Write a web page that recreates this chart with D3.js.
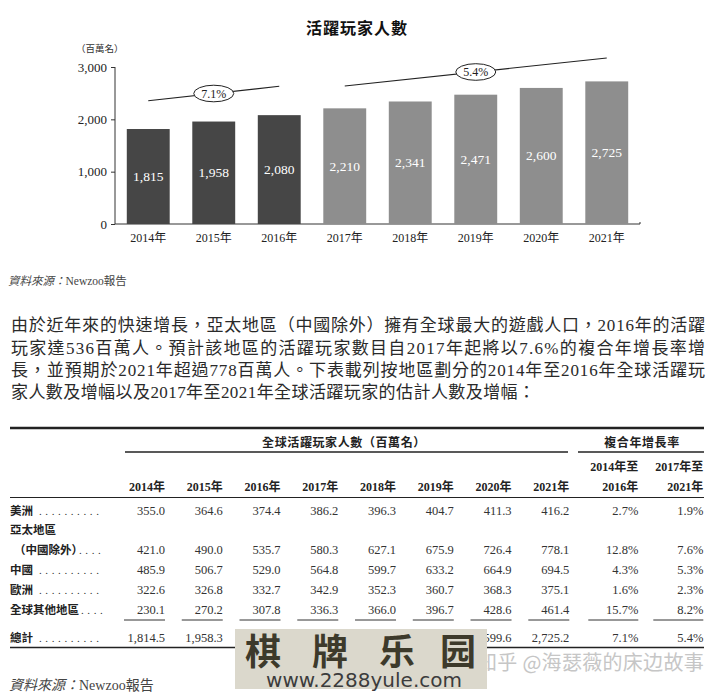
<!DOCTYPE html>
<html><head><meta charset="utf-8">
<script src="https://cdn.jsdelivr.net/npm/d3@7"></script>
<style>body{margin:0;background:#fff}svg{display:block}</style>
</head><body>
<svg id="c" width="720" height="694"></svg>
<script>
// ---------- chart data ----------
const years = ["2014年","2015年","2016年","2017年","2018年","2019年","2020年","2021年"];
const players = [1815,1958,2080,2210,2341,2471,2600,2725];
const actualYears = ["2014年","2015年","2016年"];
const yTicks = [0,1000,2000,3000];
const cagrText = ["7.1%","5.4%"];
const cagrFrom = ["2014年","2017年"];
const cagrTo = ["2016年","2021年"];
const cagrStartVal = [2356,2637];
const cagrEndVal = [2631,3172];

// ---------- table data ----------
const rowLabels = ["美洲","亞太地區","（中國除外）","中國","歐洲","全球其他地區","總計"];
const americas = [355.0,364.6,374.4,386.2,396.3,404.7,411.3,416.2];
const apac     = [421.0,490.0,535.7,580.3,627.1,675.9,726.4,778.1];
const china    = [485.9,506.7,529.0,564.8,599.7,633.2,664.9,694.5];
const europe   = [322.6,326.8,332.7,342.9,352.3,360.7,368.3,375.1];
const restOfWorld = [230.1,270.2,307.8,336.3,366.0,396.7,428.6,461.4];
const totals   = [1814.5,1958.3,2079.6,2210.5,2341.4,2471.2,2599.6,2725.2];
const cagr1416 = ["2.7%","12.8%","4.3%","1.6%","15.7%","7.1%"];
const cagr1721 = ["1.9%","7.6%","5.3%","2.3%","8.2%","5.4%"];

const paragraph = [
  "由於近年來的快速增長，亞太地區（中國除外）擁有全球最大的遊戲人口，2016年的活躍",
  "玩家達536百萬人。預計該地區的活躍玩家數目自2017年起將以7.6%的複合年增長率增",
  "長，並預期於2021年超過778百萬人。下表載列按地區劃分的2014年至2016年全球活躍玩",
  "家人數及增幅以及2017年至2021年全球活躍玩家的估計人數及增幅："
];

const SERIF = '"Liberation Serif","Noto Sans CJK TC",serif';
const svg = d3.select("#c");

// ================= BAR CHART =================
const x = d3.scaleBand().domain(years).range([115, 640]).paddingInner(0.345).paddingOuter(0.18);
const y = d3.scaleLinear().domain([0, 3000]).range([224, 67]);

svg.append("text").attr("x", 357).attr("y", 34).attr("text-anchor", "middle")
  .attr("font-family", SERIF).attr("font-weight", "bold").attr("font-size", 16)
  .attr("letter-spacing", 1).attr("fill", "#111").text("活躍玩家人數");
svg.append("text").attr("x", 76).attr("y", 52)
  .attr("font-family", SERIF).attr("font-size", 9.5).attr("fill", "#333").text("（百萬名）");

// y axis
const gy = svg.append("g").attr("transform", "translate(115,0)")
  .call(d3.axisLeft(y).tickValues(yTicks).tickFormat(d3.format(",")).tickSize(4).tickPadding(4));
gy.selectAll("text").attr("font-family", SERIF).attr("font-size", 13).attr("fill", "#222");
gy.selectAll("line,path").attr("stroke", "#333").attr("stroke-width", 1);
gy.select("path").attr("d", "M0," + y(3000) + "V" + y(0));

// x axis
const gx = svg.append("g").attr("transform", "translate(0,224)")
  .call(d3.axisBottom(x).tickSize(0).tickPadding(9));
gx.selectAll("text").attr("font-family", SERIF).attr("font-size", 12).attr("fill", "#222");
gx.select("path").attr("stroke", "#333").attr("d", "M115,0H640V-2");

// bars
svg.append("g").selectAll("rect").data(years).join("rect")
  .attr("x", d => x(d)).attr("width", x.bandwidth())
  .attr("y", (d, i) => y(players[i])).attr("height", (d, i) => y(0) - y(players[i]))
  .attr("fill", d => actualYears.includes(d) ? "#464646" : "#8e8e8e");
svg.append("g").selectAll("text").data(years).join("text")
  .attr("x", d => x(d) + x.bandwidth() / 2)
  .attr("y", (d, i) => (y(players[i]) + y(0)) / 2 + 4.5)
  .attr("text-anchor", "middle").attr("font-family", SERIF).attr("font-size", 13.5)
  .attr("fill", "#fff").text((d, i) => d3.format(",")(players[i]));

// CAGR annotations
cagrText.forEach((t, i) => {
  const x0 = x(cagrFrom[i]) + x.bandwidth() / 2, x1 = x(cagrTo[i]) + x.bandwidth() / 2;
  const y0 = y(cagrStartVal[i]), y1 = y(cagrEndVal[i]);
  svg.append("line").attr("x1", x0).attr("y1", y0).attr("x2", x1).attr("y2", y1)
    .attr("stroke", "#222").attr("stroke-width", 1.1);
  const cx = (x0 + x1) / 2, cy = (y0 + y1) / 2;
  svg.append("ellipse").attr("cx", cx).attr("cy", cy).attr("rx", 20).attr("ry", 8.3)
    .attr("fill", "#fff").attr("stroke", "#222").attr("stroke-width", 1);
  svg.append("text").attr("x", cx).attr("y", cy + 4.3).attr("text-anchor", "middle")
    .attr("font-family", SERIF).attr("font-size", 12).attr("fill", "#222").text(t);
});

// source 1
const src1 = svg.append("text").attr("x", 8).attr("y", 285).attr("font-family", SERIF)
  .attr("font-size", 11.5).attr("fill", "#444");
src1.append("tspan").attr("font-style", "italic").text("資料來源：");
src1.append("tspan").text("Newzoo報告");

// ================= PARAGRAPH =================
const paraY = [331, 353.5, 376, 398];
const paraLen = [694, 694, 694, 524];
paragraph.forEach((line, i) => {
  svg.append("text").attr("x", 11).attr("y", paraY[i])
    .attr("font-family", SERIF).attr("font-size", 17).attr("fill", "#2a2a2a")
    .attr("textLength", paraLen[i]).attr("lengthAdjust", "spacing").text(line);
});

// ================= TABLE =================
const colX = d3.scalePoint().domain(years).range([165, 569.3]);
const cagrX = [638.3, 703.3];
const rowY = d3.scaleLinear().domain([0, 5]).range([510, 609]);
const totalY = 637;

// rules
const rule = (x1, x2, yy, w) => svg.append("line").attr("x1", x1).attr("x2", x2)
  .attr("y1", yy).attr("y2", yy).attr("stroke", "#222").attr("stroke-width", w);
rule(10, 704, 428, 2.6);
rule(125, 568, 452, 1.4);
rule(578, 704, 452, 1.4);
rule(10, 704, 497.5, 1.2);
rule(10, 704, 647.5, 1.3);

svg.append("text").attr("x", 344).attr("y", 446.5).attr("text-anchor", "middle")
  .attr("font-family", SERIF).attr("font-size", 12).attr("font-weight", "bold")
  .attr("letter-spacing", 0.6).attr("fill", "#222").text("全球活躍玩家人數（百萬名）");
svg.append("text").attr("x", 642).attr("y", 446.5).attr("text-anchor", "middle")
  .attr("font-family", SERIF).attr("font-size", 12).attr("font-weight", "bold")
  .attr("letter-spacing", 0.6).attr("fill", "#222").text("複合年增長率");

// header years
svg.append("g").selectAll("text").data(years).join("text")
  .attr("x", d => colX(d)).attr("y", 491).attr("text-anchor", "end")
  .attr("font-family", SERIF).attr("font-size", 12).attr("font-weight", "bold")
  .attr("fill", "#222").text(d => d);
[["2014年至","2016年"],["2017年至","2021年"]].forEach((h, i) => {
  h.forEach((t, j) => svg.append("text").attr("x", cagrX[i]).attr("y", 471 + j * 20)
    .attr("text-anchor", "end").attr("font-family", SERIF).attr("font-size", 12)
    .attr("font-weight", "bold").attr("fill", "#222").text(t));
});

// row labels with dot leaders
const labelFont = (sel) => sel.attr("font-family", SERIF).attr("font-size", 11.5)
  .attr("font-weight", "bold").attr("fill", "#222");
const leader = (x0, n, yy) => svg.append("text").attr("x", x0).attr("y", yy)
  .attr("font-family", SERIF).attr("font-size", 11).attr("letter-spacing", 3.6)
  .attr("fill", "#333").text(".".repeat(n));
const labelRows = [
  {slot: 0, x: 10, dx: 39, d: 10},
  {slot: 1, x: 10, dx: 0, d: 0},
  {slot: 2, x: 14, dx: 79, d: 4},
  {slot: 3, x: 10, dx: 39, d: 10},
  {slot: 4, x: 10, dx: 39, d: 10},
  {slot: 5, x: 10, dx: 81, d: 4}
];
labelRows.forEach((r, i) => {
  labelFont(svg.append("text").attr("x", r.x).attr("y", rowY(r.slot) + 4.5)).text(rowLabels[i]);
  if (r.d) leader(r.dx, r.d, rowY(r.slot) + 4.5);
});
labelFont(svg.append("text").attr("x", 10).attr("y", totalY + 4.5)).text(rowLabels[6]);
leader(39, 10, totalY + 4.5);

// values
const fmt = d3.format(",.1f");
const dataRows = [[americas, 0, 0], [apac, 2, 1], [china, 3, 2], [europe, 4, 3], [restOfWorld, 5, 4]];
dataRows.forEach(([arr, slot, ci]) => {
  svg.append("g").selectAll("text").data(years).join("text")
    .attr("x", d => colX(d)).attr("y", rowY(slot) + 4.5).attr("text-anchor", "end")
    .attr("font-family", SERIF).attr("font-size", 12.5).attr("fill", "#333")
    .text((d, i) => fmt(arr[i]));
  [cagr1416, cagr1721].forEach((c, k) => svg.append("text").attr("x", cagrX[k]).attr("y", rowY(slot) + 4.5)
    .attr("text-anchor", "end").attr("font-family", SERIF).attr("font-size", 12.5).attr("fill", "#333")
    .text(c[ci]));
});
// subtotal underlines
svg.append("g").selectAll("line").data(years).join("line")
  .attr("x1", d => colX(d) - 41).attr("x2", d => colX(d)).attr("y1", 620).attr("y2", 620)
  .attr("stroke", "#333").attr("stroke-width", 1);
cagrX.forEach(cx => svg.append("line").attr("x1", cx - 50).attr("x2", cx).attr("y1", 620).attr("y2", 620)
  .attr("stroke", "#333").attr("stroke-width", 1));
// totals
svg.append("g").selectAll("text").data(years).join("text")
  .attr("x", d => colX(d)).attr("y", totalY + 4.5).attr("text-anchor", "end")
  .attr("font-family", SERIF).attr("font-size", 12.5).attr("fill", "#333")
  .text((d, i) => fmt(totals[i]));
[cagr1416, cagr1721].forEach((c, k) => svg.append("text").attr("x", cagrX[k]).attr("y", totalY + 4.5)
  .attr("text-anchor", "end").attr("font-family", SERIF).attr("font-size", 12.5).attr("fill", "#333")
  .text(c[5]));

// source 2
const src2 = svg.append("text").attr("x", 9).attr("y", 690).attr("font-family", SERIF)
  .attr("font-size", 14).attr("fill", "#444");
src2.append("tspan").attr("font-style", "italic").text("資料來源：");
src2.append("tspan").text("Newzoo報告");

// ================= WATERMARKS =================
svg.append("text").attr("x", 704).attr("y", 670).attr("text-anchor", "end")
  .attr("font-family", '"Noto Sans CJK SC",sans-serif').attr("font-size", 20)
  .attr("letter-spacing", 0.3).attr("fill", "#c6c6c6").text("知乎 @海瑟薇的床边故事");
svg.append("rect").attr("x", 235).attr("y", 629).attr("width", 252).attr("height", 60).attr("fill", "#dbd8cc");
const wmChars = ["棋","牌","乐","园"], wmX = [263, 330, 397, 458];
wmChars.forEach((c, i) => svg.append("text").attr("x", wmX[i]).attr("y", 665).attr("text-anchor", "middle")
  .attr("font-family", '"Noto Sans CJK SC",sans-serif').attr("font-weight", "bold").attr("font-size", 36)
  .attr("fill", "#3d3a2b").text(c));
svg.append("text").attr("x", 364).attr("y", 687).attr("text-anchor", "middle")
  .attr("font-family", '"DejaVu Sans",sans-serif').attr("font-size", 20)
  .attr("fill", "#3c3c3c").text("www.2288yule.com");
</script>
</body></html>
